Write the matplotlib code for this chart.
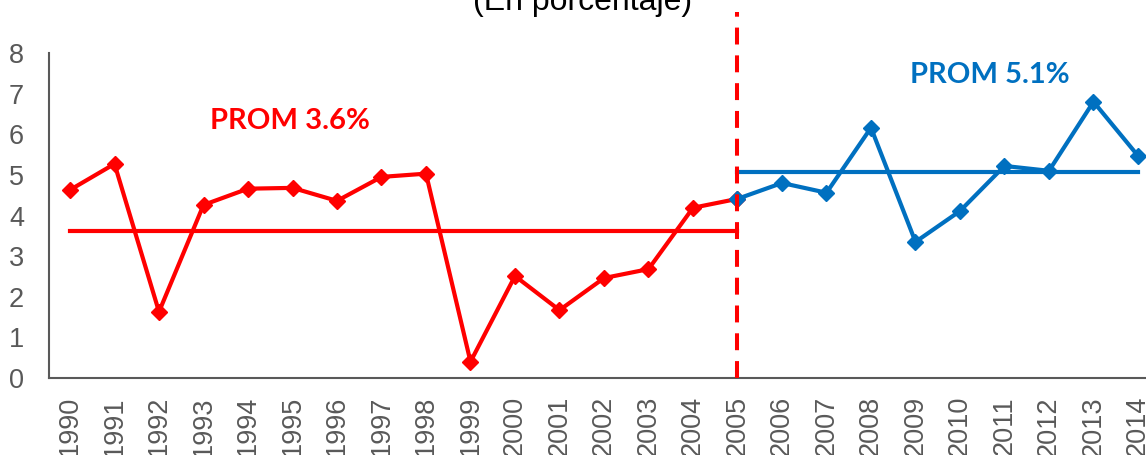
import matplotlib
matplotlib.use("Agg")
import matplotlib.pyplot as plt

# data
years = [str(y) for y in range(1990, 2015)]
tasa_1 = [4.63, 5.27, 1.63, 4.26, 4.66, 4.68, 4.36, 4.95, 5.03, 0.40,
          2.51, 1.67, 2.46, 2.68, 4.19, 4.41]            # 1990-2005
tasa_2 = [4.41, 4.80, 4.56, 6.16, 3.35, 4.11, 5.22, 5.10, 6.80, 5.47]  # 2005-2014
prom_1 = 3.62
prom_2 = 5.07
title = "(En porcentaje)"
label_1 = "PROM 3.6%"
label_2 = "PROM 5.1%"

RED = "#FF0000"
BLUE = "#0070C0"
GRAY = "#595959"

fig = plt.figure(figsize=(11.46, 4.55), dpi=100)
ax = fig.add_axes([49 / 1146, 77 / 455, 1097 / 1146, 325 / 455])

x1 = list(range(len(tasa_1)))
x2 = list(range(len(tasa_1) - 1, len(years)))

ax.plot(x1, tasa_1, color=RED, lw=3, marker="D", ms=8, zorder=4)
ax.plot(x2, tasa_2, color=BLUE, lw=3, marker="D", ms=8, zorder=4)

# average lines
ax.plot([x1[0], x1[-1]], [prom_1, prom_1], color=RED, lw=3, zorder=3)
ax.plot([x2[0], x2[-1]], [prom_2, prom_2], color=BLUE, lw=3, zorder=3)

# dashed separator at 2005
ax.plot([x1[-1], x1[-1]], [0, 9], color=RED, lw=2.9, ls=(0, (4.2, 2.7)),
        clip_on=False, zorder=5)

ax.text(4.94, 6.33, label_1, color=RED, fontsize=21, fontweight="bold",
        family="Lato", ha="center", va="center")
ax.text(20.66, 7.45, label_2, color=BLUE, fontsize=21, fontweight="bold",
        family="Lato", ha="center", va="center")

ax.set_xlim(-0.472, 24.18)
ax.set_ylim(0, 8)
ax.set_yticks(range(0, 9))
ax.set_xticks(range(len(years)))
ax.set_xticklabels(years, rotation=90)
ax.tick_params(axis="both", length=0, labelsize=19.5, labelcolor=GRAY,
               labelfontfamily="Liberation Sans")
ax.tick_params(axis="x", pad=13)
ax.tick_params(axis="y", pad=18)

for s in ["top", "right"]:
    ax.spines[s].set_visible(False)
for s in ["left", "bottom"]:
    ax.spines[s].set_color(GRAY)
    ax.spines[s].set_linewidth(1.5)

fig.text(583 / 1146, 1 - 10 / 455, title, fontsize=23, family="Liberation Sans",
         ha="center", va="baseline", color="black")

fig.savefig("out.png", dpi=100)
